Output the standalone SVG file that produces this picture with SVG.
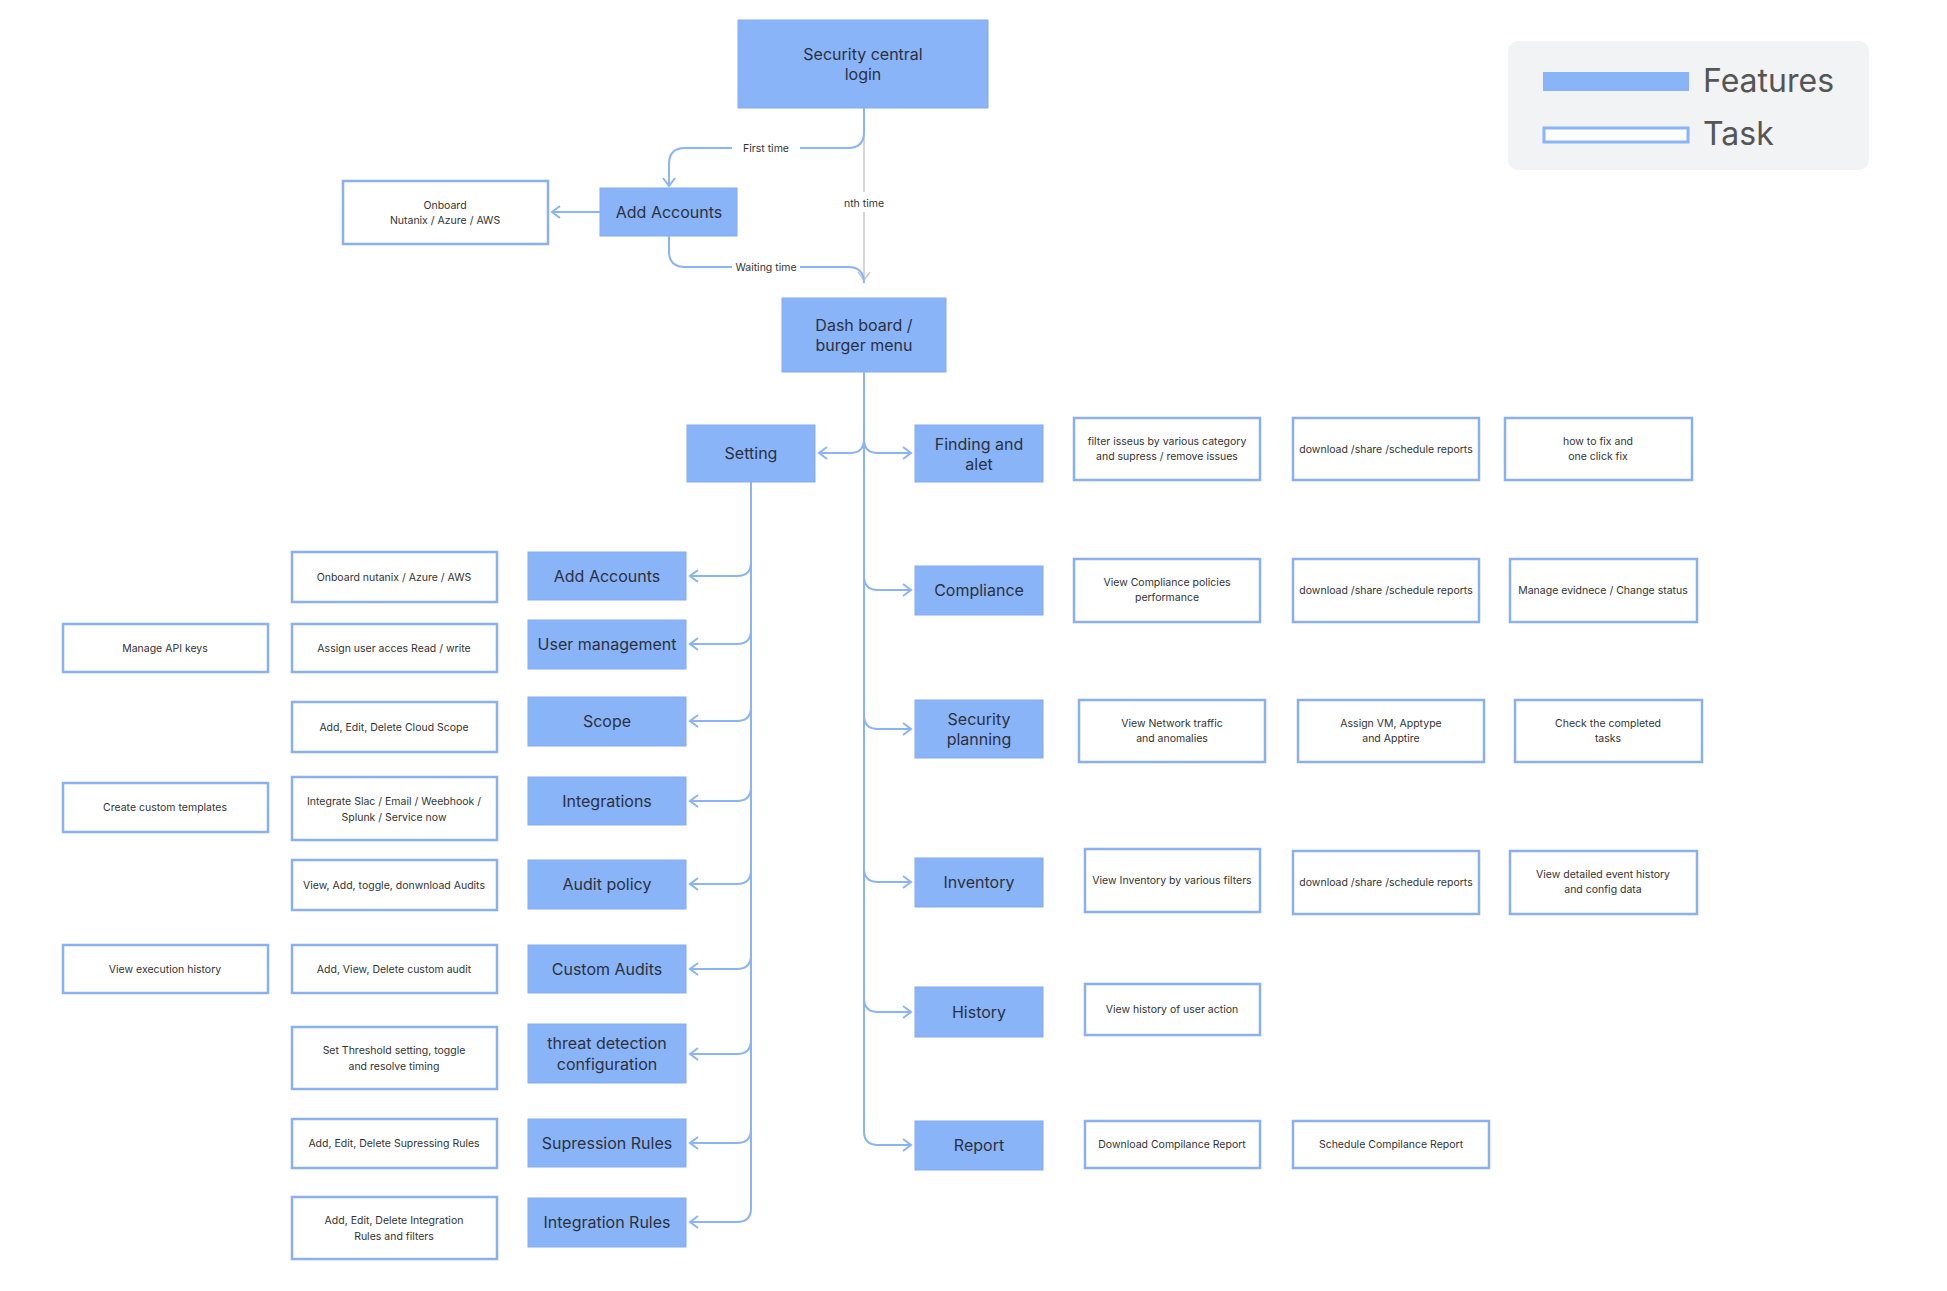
<svg xmlns="http://www.w3.org/2000/svg" width="1947" height="1291" viewBox="0 0 1947 1291">
<style>
.f{fill:#8ab4f8;stroke:#85acf0;stroke-width:1}
.t{fill:#fff;stroke:#8ab0ee;stroke-width:2.5}
.ft{font-family:Inter,"Liberation Sans",sans-serif;font-size:16px;fill:#2b3140;text-anchor:middle}
.tt{font-family:Inter,"Liberation Sans",sans-serif;font-size:10.5px;fill:#333;text-anchor:middle}
.c{fill:none;stroke:#8ab4f8;stroke-width:2}
.g{fill:none;stroke:#c8c8c8;stroke-width:1.5}
.lb{font-family:Inter,"Liberation Sans",sans-serif;font-size:10.5px;fill:#333;text-anchor:middle}
</style>
<defs>
<marker id="a" markerWidth="12" markerHeight="14" refX="10" refY="7" orient="auto" markerUnits="userSpaceOnUse"><path d="M2,1 L10,7 L2,13" fill="none" stroke="#8ab4f8" stroke-width="2"/></marker>
<marker id="ag" markerWidth="12" markerHeight="14" refX="10" refY="7" orient="auto" markerUnits="userSpaceOnUse"><path d="M2,1 L10,7 L2,13" fill="none" stroke="#c8c8c8" stroke-width="1.5"/></marker>
</defs>
<rect width="1947" height="1291" fill="#fff"/>
<g id="legend">
<rect x="1508" y="41" width="361" height="129" rx="10" fill="#f1f3f4"/>
<rect x="1543" y="72" width="146" height="19" fill="#8ab4f8"/>
<rect x="1544" y="128" width="144" height="14" fill="#fff" stroke="#8ab4f8" stroke-width="3"/>
<text x="1703" y="92" font-family="Inter,'Liberation Sans',sans-serif" font-size="32" fill="#555">Features</text>
<text x="1703" y="145" font-family="Inter,'Liberation Sans',sans-serif" font-size="32" fill="#555">Task</text>
</g>
<g id="connectors">
<path class="g" d="M864,108 V280" marker-end="url(#ag)"/>
<path class="c" d="M864,108 V132 Q864,148 848,148 H800 M732,148 H685 Q669,148 669,164 V186" marker-end="url(#a)"/>
<path class="c" d="M669,236 V251 Q669,267 685,267 H732 M800,267 H848 Q864,267 864,283"/>
<path class="c" d="M681,212 H552" marker-end="url(#a)"/>
<path class="c" d="M864,372 V1131 Q864,1145 878,1145 H911" marker-end="url(#a)"/>
<path class="c" d="M864,439 Q864,453 878,453 H911" marker-end="url(#a)"/>
<path class="c" d="M864,439 Q864,453 850,453 H819" marker-end="url(#a)"/>
<path class="c" d="M864,576 Q864,590 878,590 H911" marker-end="url(#a)"/>
<path class="c" d="M864,715 Q864,729 878,729 H911" marker-end="url(#a)"/>
<path class="c" d="M864,868 Q864,882 878,882 H911" marker-end="url(#a)"/>
<path class="c" d="M864,998 Q864,1012 878,1012 H911" marker-end="url(#a)"/>
<path class="c" d="M751,482 V1208 Q751,1222 737,1222 H690" marker-end="url(#a)"/>
<path class="c" d="M751,562 Q751,576 737,576 H690" marker-end="url(#a)"/>
<path class="c" d="M751,630 Q751,644 737,644 H690" marker-end="url(#a)"/>
<path class="c" d="M751,707 Q751,721 737,721 H690" marker-end="url(#a)"/>
<path class="c" d="M751,787 Q751,801 737,801 H690" marker-end="url(#a)"/>
<path class="c" d="M751,870 Q751,884 737,884 H690" marker-end="url(#a)"/>
<path class="c" d="M751,955 Q751,969 737,969 H690" marker-end="url(#a)"/>
<path class="c" d="M751,1040 Q751,1054 737,1054 H690" marker-end="url(#a)"/>
<path class="c" d="M751,1129 Q751,1143 737,1143 H690" marker-end="url(#a)"/>
</g>
<rect x="736" y="140" width="64" height="16" fill="#fff"/>
<text class="lb" x="766" y="152">First time</text>
<rect x="840" y="192" width="48" height="20" fill="#fff"/>
<text class="lb" x="864" y="207">nth time</text>
<rect x="733" y="259" width="66" height="16" fill="#fff"/>
<text class="lb" x="766" y="271">Waiting time</text>

<g id="login"><rect class="f" x="738" y="20" width="250" height="88"/><text class="ft" x="863" y="60">Security central</text><text class="ft" x="863" y="80">login</text></g>
<g id="addacc-top"><rect class="f" x="600" y="188" width="137" height="48"/><text class="ft" x="669" y="218">Add Accounts</text></g>
<g id="onboard-top"><rect class="t" x="343" y="181" width="205" height="63"/><text class="tt" x="445" y="209">Onboard</text><text class="tt" x="445" y="224">Nutanix / Azure / AWS</text></g>
<g id="dashboard"><rect class="f" x="782" y="298" width="164" height="74"/><text class="ft" x="864" y="331">Dash board /</text><text class="ft" x="864" y="351">burger menu</text></g>
<g id="setting"><rect class="f" x="687" y="425" width="128" height="57"/><text class="ft" x="751" y="459">Setting</text></g>

<g id="finding"><rect class="f" x="915" y="425" width="128" height="57"/><text class="ft" x="979" y="450">Finding and</text><text class="ft" x="979" y="470">alet</text></g>
<g id="compliance"><rect class="f" x="915" y="566" width="128" height="49"/><text class="ft" x="979" y="596">Compliance</text></g>
<g id="secplan"><rect class="f" x="915" y="700" width="128" height="58"/><text class="ft" x="979" y="725">Security</text><text class="ft" x="979" y="745">planning</text></g>
<g id="inventory"><rect class="f" x="915" y="858" width="128" height="49"/><text class="ft" x="979" y="888">Inventory</text></g>
<g id="history"><rect class="f" x="915" y="987" width="128" height="50"/><text class="ft" x="979" y="1018">History</text></g>
<g id="report"><rect class="f" x="915" y="1121" width="128" height="49"/><text class="ft" x="979" y="1151">Report</text></g>

<g id="r1a"><rect class="t" x="1074" y="418" width="186" height="62"/><text class="tt" x="1167" y="445">filter isseus by various category</text><text class="tt" x="1167" y="460">and supress / remove issues</text></g>
<g id="r1b"><rect class="t" x="1293" y="418" width="186" height="62"/><text class="tt" x="1386" y="453">download /share /schedule reports</text></g>
<g id="r1c"><rect class="t" x="1505" y="418" width="187" height="62"/><text class="tt" x="1598" y="445">how to fix  and</text><text class="tt" x="1598" y="460">one click fix</text></g>
<g id="r2a"><rect class="t" x="1074" y="559" width="186" height="63"/><text class="tt" x="1167" y="586">View Compliance policies</text><text class="tt" x="1167" y="601">performance</text></g>
<g id="r2b"><rect class="t" x="1293" y="559" width="186" height="63"/><text class="tt" x="1386" y="594">download /share /schedule reports</text></g>
<g id="r2c"><rect class="t" x="1510" y="559" width="187" height="63"/><text class="tt" x="1603" y="594">Manage evidnece /  Change status</text></g>
<g id="r3a"><rect class="t" x="1079" y="700" width="186" height="62"/><text class="tt" x="1172" y="727">View Network traffic</text><text class="tt" x="1172" y="742">and anomalies</text></g>
<g id="r3b"><rect class="t" x="1298" y="700" width="186" height="62"/><text class="tt" x="1391" y="727">Assign VM, Apptype</text><text class="tt" x="1391" y="742">and Apptire</text></g>
<g id="r3c"><rect class="t" x="1515" y="700" width="187" height="62"/><text class="tt" x="1608" y="727">Check the completed</text><text class="tt" x="1608" y="742">tasks</text></g>
<g id="r4a"><rect class="t" x="1085" y="849" width="175" height="63"/><text class="tt" x="1172" y="884">View Inventory by various filters</text></g>
<g id="r4b"><rect class="t" x="1293" y="851" width="186" height="63"/><text class="tt" x="1386" y="886">download /share /schedule reports</text></g>
<g id="r4c"><rect class="t" x="1510" y="851" width="187" height="63"/><text class="tt" x="1603" y="878">View detailed event history</text><text class="tt" x="1603" y="893">and config data</text></g>
<g id="r5a"><rect class="t" x="1085" y="984" width="175" height="51"/><text class="tt" x="1172" y="1013">View history of user action</text></g>
<g id="r6a"><rect class="t" x="1085" y="1121" width="175" height="47"/><text class="tt" x="1172" y="1148">Download Compilance Report</text></g>
<g id="r6b"><rect class="t" x="1293" y="1121" width="196" height="47"/><text class="tt" x="1391" y="1148">Schedule Compilance Report</text></g>

<g id="s1"><rect class="f" x="528" y="552" width="158" height="48"/><text class="ft" x="607" y="582">Add Accounts</text></g>
<g id="s2"><rect class="f" x="528" y="620" width="158" height="49"/><text class="ft" x="607" y="650">User management</text></g>
<g id="s3"><rect class="f" x="528" y="697" width="158" height="49"/><text class="ft" x="607" y="727">Scope</text></g>
<g id="s4"><rect class="f" x="528" y="777" width="158" height="48"/><text class="ft" x="607" y="807">Integrations</text></g>
<g id="s5"><rect class="f" x="528" y="860" width="158" height="49"/><text class="ft" x="607" y="890">Audit policy</text></g>
<g id="s6"><rect class="f" x="528" y="945" width="158" height="48"/><text class="ft" x="607" y="975">Custom Audits</text></g>
<g id="s7"><rect class="f" x="528" y="1024" width="158" height="59"/><text class="ft" x="607" y="1049">threat detection</text><text class="ft" x="607" y="1070">configuration</text></g>
<g id="s8"><rect class="f" x="528" y="1119" width="158" height="48"/><text class="ft" x="607" y="1149">Supression Rules</text></g>
<g id="s9"><rect class="f" x="528" y="1198" width="158" height="49"/><text class="ft" x="607" y="1228">Integration Rules</text></g>

<g id="m1"><rect class="t" x="292" y="552" width="205" height="50"/><text class="tt" x="394" y="581">Onboard nutanix / Azure / AWS</text></g>
<g id="m2"><rect class="t" x="292" y="624" width="205" height="48"/><text class="tt" x="394" y="652">Assign user acces  Read / write</text></g>
<g id="m3"><rect class="t" x="292" y="702" width="205" height="50"/><text class="tt" x="394" y="731">Add, Edit, Delete Cloud Scope</text></g>
<g id="m4"><rect class="t" x="292" y="777" width="205" height="63"/><text class="tt" x="394" y="805">Integrate Slac / Email / Weebhook /</text><text class="tt" x="394" y="821">Splunk / Service now</text></g>
<g id="m5"><rect class="t" x="292" y="860" width="205" height="50"/><text class="tt" x="394" y="889">View, Add, toggle, donwnload Audits</text></g>
<g id="m6"><rect class="t" x="292" y="945" width="205" height="48"/><text class="tt" x="394" y="973">Add, View, Delete custom audit</text></g>
<g id="m7"><rect class="t" x="292" y="1027" width="205" height="62"/><text class="tt" x="394" y="1054">Set Threshold setting, toggle</text><text class="tt" x="394" y="1070">and resolve timing</text></g>
<g id="m8"><rect class="t" x="292" y="1119" width="205" height="49"/><text class="tt" x="394" y="1147">Add, Edit, Delete Supressing Rules</text></g>
<g id="m9"><rect class="t" x="292" y="1197" width="205" height="62"/><text class="tt" x="394" y="1224">Add, Edit, Delete Integration</text><text class="tt" x="394" y="1240">Rules and filters</text></g>

<g id="l1"><rect class="t" x="63" y="624" width="205" height="48"/><text class="tt" x="165" y="652">Manage API keys</text></g>
<g id="l2"><rect class="t" x="63" y="783" width="205" height="49"/><text class="tt" x="165" y="811">Create custom templates</text></g>
<g id="l3"><rect class="t" x="63" y="945" width="205" height="48"/><text class="tt" x="165" y="973">View execution history</text></g>
</svg>
